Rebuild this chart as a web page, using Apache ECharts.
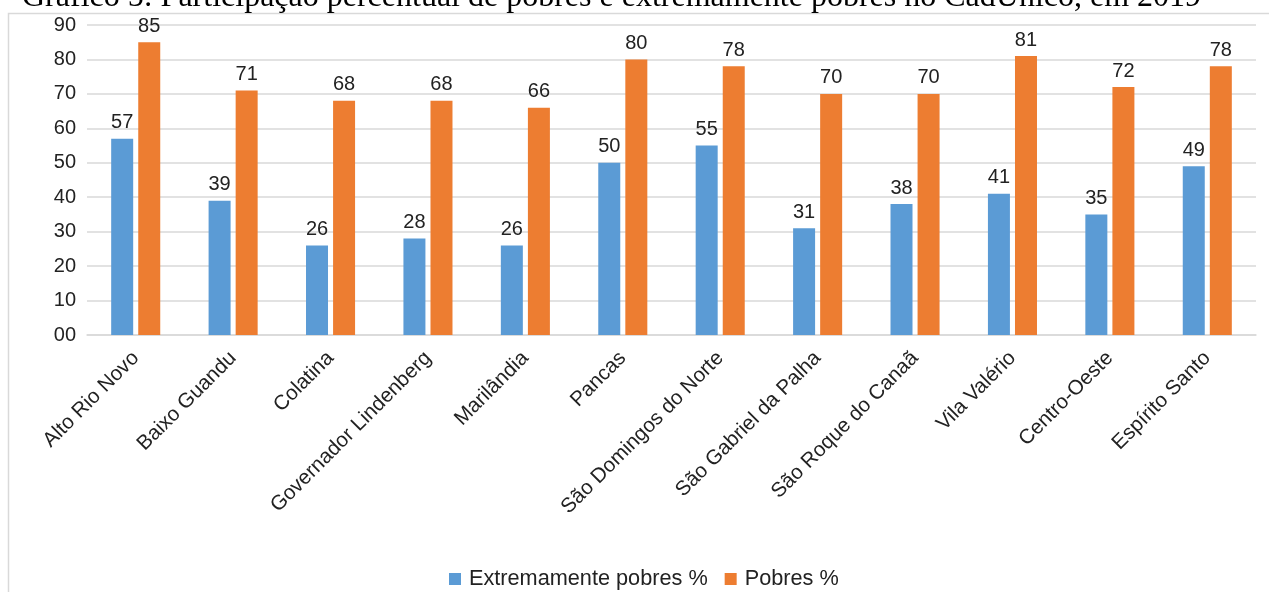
<!DOCTYPE html>
<html>
<head>
<meta charset="utf-8">
<script src="https://cdn.jsdelivr.net/npm/echarts@6/dist/echarts.min.js"></script>
<style>
  html, body { margin: 0; padding: 0; background: #fff; }
  #chart { width: 1269px; height: 592px; }
</style>
</head>
<body>
<div id="chart"></div>
<script>
// Municípios da microrregião Centro-Oeste (ES) e totais
const categories = [
  'Alto Rio Novo', 'Baixo Guandu', 'Colatina', 'Governador Lindenberg',
  'Marilândia', 'Pancas', 'São Domingos do Norte', 'São Gabriel da Palha',
  'São Roque do Canaã', 'Vila Valério', 'Centro-Oeste', 'Espírito Santo'
];
const extremamentePobres = [57, 39, 26, 28, 26, 50, 55, 31, 38, 41, 35, 49];
const pobres = [85, 71, 68, 68, 66, 80, 78, 70, 70, 81, 72, 78];
const yTicks = [0, 10, 20, 30, 40, 50, 60, 70, 80, 90];

const chart = echarts.init(document.getElementById('chart'), null, { renderer: 'canvas' });

const labelFont = { fontFamily: 'Liberation Sans, Arial, sans-serif', color: '#222' };

chart.setOption({
  animation: false,
  backgroundColor: '#fff',
  graphic: [
    {
      type: 'rect',
      shape: { x: 8.5, y: 13.5, width: 1300, height: 700 },
      style: { fill: 'none', stroke: '#d9d9d9', lineWidth: 1.5 },
      silent: true, z: -1
    },
    {
      type: 'text',
      x: 22, y: 14,
      style: {
        text: 'Gráfico 5: Participação percentual de pobres e extremamente pobres no CadÚnico, em 2019',
        font: '32px "Liberation Serif", "Times New Roman", serif',
        fill: '#000',
        verticalAlign: 'bottom'
      },
      z: 10
    }
  ],
  grid: { left: 87, right: 13, top: 25, bottom: 257, containLabel: false },
  legend: {
    bottom: 2,
    left: 449,
    padding: 0,
    itemWidth: 12,
    itemHeight: 12,
    itemGap: 17,
    icon: 'rect',
    textStyle: { ...labelFont, fontSize: 21.7, padding: [0, 0, 0, 3] },
    data: ['Extremamente pobres %', 'Pobres %']
  },
  xAxis: {
    type: 'category',
    data: categories,
    axisLine: { show: true, lineStyle: { color: '#d9d9d9', width: 1.5 } },
    axisTick: { show: false },
    axisLabel: {
      ...labelFont,
      fontSize: 20.6,
      rotate: 45,
      interval: 0,
      margin: 20
    }
  },
  yAxis: {
    type: 'value',
    min: yTicks[0],
    max: yTicks[yTicks.length - 1],
    interval: 10,
    axisLine: { show: false },
    axisTick: { show: false },
    splitLine: { lineStyle: { color: '#d9d9d9', width: 1.5 } },
    axisLabel: {
      ...labelFont,
      fontSize: 20,
      margin: 11,
      formatter: v => String(v).padStart(2, '0')
    }
  },
  series: [
    {
      name: 'Extremamente pobres %',
      type: 'bar',
      data: extremamentePobres,
      barWidth: 22,
      barGap: '23%',
      itemStyle: { color: '#5B9BD5' },
      label: { show: true, position: 'top', distance: 6, ...labelFont, fontSize: 20 }
    },
    {
      name: 'Pobres %',
      type: 'bar',
      data: pobres,
      barWidth: 22,
      barGap: '23%',
      itemStyle: { color: '#ED7D31' },
      label: { show: true, position: 'top', distance: 6, ...labelFont, fontSize: 20 }
    }
  ]
});
</script>
</body>
</html>
